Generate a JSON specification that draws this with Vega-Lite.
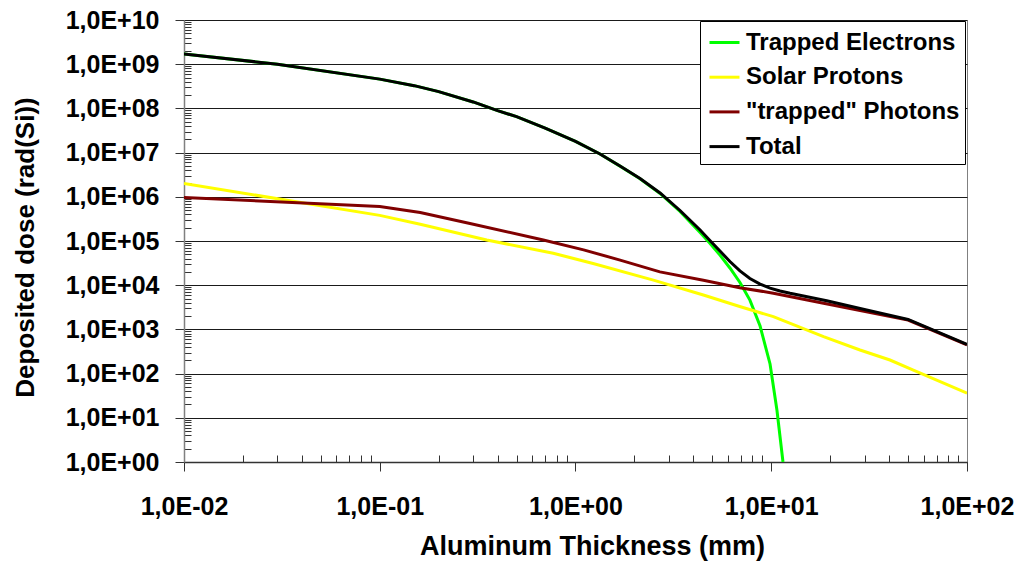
{
  "$schema": "https://vega.github.io/schema/vega-lite/v6.json",
  "width": 783,
  "height": 442,
  "autosize": {"type": "none"},
  "padding": {"left": 184, "top": 20, "right": 55, "bottom": 109},
  "background": "white",
  "config": {
    "font": "Liberation Sans",
    "view": {"stroke": "#808080", "strokeWidth": 1}
  },
  "data": {
    "values": [
      {"series": "Trapped Electrons", "x": 0.01, "y": 1.7e9},
      {"series": "Trapped Electrons", "x": 0.03, "y": 1.0e9},
      {"series": "Trapped Electrons", "x": 0.1, "y": 4.6e8},
      {"series": "Trapped Electrons", "x": 0.15, "y": 3.27e8},
      {"series": "Trapped Electrons", "x": 0.2, "y": 2.4e8},
      {"series": "Trapped Electrons", "x": 0.3, "y": 1.4e8},
      {"series": "Trapped Electrons", "x": 0.4, "y": 8.9e7},
      {"series": "Trapped Electrons", "x": 0.5, "y": 6.5e7},
      {"series": "Trapped Electrons", "x": 0.7, "y": 3.6e7},
      {"series": "Trapped Electrons", "x": 1.0, "y": 1.8e7},
      {"series": "Trapped Electrons", "x": 1.334, "y": 9.3e6},
      {"series": "Trapped Electrons", "x": 1.688, "y": 4.95e6},
      {"series": "Trapped Electrons", "x": 2.137, "y": 2.56e6},
      {"series": "Trapped Electrons", "x": 2.704, "y": 1.19e6},
      {"series": "Trapped Electrons", "x": 3.42, "y": 4.65e5},
      {"series": "Trapped Electrons", "x": 4.33, "y": 1.55e5},
      {"series": "Trapped Electrons", "x": 4.86, "y": 8.9e4},
      {"series": "Trapped Electrons", "x": 5.47, "y": 4.8e4},
      {"series": "Trapped Electrons", "x": 6.15, "y": 2.45e4},
      {"series": "Trapped Electrons", "x": 6.92, "y": 1.15e4},
      {"series": "Trapped Electrons", "x": 7.78, "y": 4.6e3},
      {"series": "Trapped Electrons", "x": 8.77, "y": 1.19e3},
      {"series": "Trapped Electrons", "x": 9.86, "y": 165},
      {"series": "Trapped Electrons", "x": 10.69, "y": 15},
      {"series": "Trapped Electrons", "x": 11.48, "y": 1.0},

      {"series": "Solar Protons", "x": 0.01, "y": 2.0e6},
      {"series": "Solar Protons", "x": 0.1, "y": 3.8e5},
      {"series": "Solar Protons", "x": 0.161, "y": 2.4e5},
      {"series": "Solar Protons", "x": 0.352, "y": 1.05e5},
      {"series": "Solar Protons", "x": 0.77, "y": 5.3e4},
      {"series": "Solar Protons", "x": 1.23, "y": 3.1e4},
      {"series": "Solar Protons", "x": 2.5, "y": 1.3e4},
      {"series": "Solar Protons", "x": 4.5, "y": 6.0e3},
      {"series": "Solar Protons", "x": 6.9, "y": 3.3e3},
      {"series": "Solar Protons", "x": 10.25, "y": 1.94e3},
      {"series": "Solar Protons", "x": 18.5, "y": 684},
      {"series": "Solar Protons", "x": 28.4, "y": 342},
      {"series": "Solar Protons", "x": 40.4, "y": 203},
      {"series": "Solar Protons", "x": 53.2, "y": 120},
      {"series": "Solar Protons", "x": 100, "y": 36},

      {"series": "\"trapped\" Photons", "x": 0.01, "y": 9.7e5},
      {"series": "\"trapped\" Photons", "x": 0.1, "y": 6.0e5},
      {"series": "\"trapped\" Photons", "x": 0.161, "y": 4.4e5},
      {"series": "\"trapped\" Photons", "x": 0.289, "y": 2.5e5},
      {"series": "\"trapped\" Photons", "x": 0.685, "y": 1.05e5},
      {"series": "\"trapped\" Photons", "x": 1.1, "y": 6.3e4},
      {"series": "\"trapped\" Photons", "x": 1.69, "y": 3.7e4},
      {"series": "\"trapped\" Photons", "x": 2.7, "y": 2.0e4},
      {"series": "\"trapped\" Photons", "x": 4.5, "y": 1.3e4},
      {"series": "\"trapped\" Photons", "x": 6.9, "y": 8.8e3},
      {"series": "\"trapped\" Photons", "x": 10.25, "y": 6.6e3},
      {"series": "\"trapped\" Photons", "x": 18.5, "y": 3.9e3},
      {"series": "\"trapped\" Photons", "x": 50, "y": 1.63e3},
      {"series": "\"trapped\" Photons", "x": 100, "y": 444},

      {"series": "Total", "x": 0.01, "y": 1.7e9},
      {"series": "Total", "x": 0.03, "y": 1.0e9},
      {"series": "Total", "x": 0.1, "y": 4.6e8},
      {"series": "Total", "x": 0.15, "y": 3.27e8},
      {"series": "Total", "x": 0.2, "y": 2.4e8},
      {"series": "Total", "x": 0.3, "y": 1.4e8},
      {"series": "Total", "x": 0.4, "y": 8.9e7},
      {"series": "Total", "x": 0.5, "y": 6.5e7},
      {"series": "Total", "x": 0.7, "y": 3.6e7},
      {"series": "Total", "x": 1.0, "y": 1.8e7},
      {"series": "Total", "x": 1.334, "y": 9.3e6},
      {"series": "Total", "x": 1.688, "y": 4.98e6},
      {"series": "Total", "x": 2.137, "y": 2.59e6},
      {"series": "Total", "x": 2.704, "y": 1.22e6},
      {"series": "Total", "x": 3.42, "y": 4.9e5},
      {"series": "Total", "x": 4.33, "y": 1.77e5},
      {"series": "Total", "x": 4.86, "y": 1.03e5},
      {"series": "Total", "x": 5.47, "y": 5.94e4},
      {"series": "Total", "x": 6.15, "y": 3.44e4},
      {"series": "Total", "x": 6.92, "y": 2.1e4},
      {"series": "Total", "x": 7.78, "y": 1.42e4},
      {"series": "Total", "x": 8.77, "y": 1.06e4},
      {"series": "Total", "x": 9.86, "y": 8.6e3},
      {"series": "Total", "x": 11.09, "y": 7.4e3},
      {"series": "Total", "x": 12.48, "y": 6.56e3},
      {"series": "Total", "x": 19.2, "y": 4.46e3},
      {"series": "Total", "x": 30.7, "y": 2.75e3},
      {"series": "Total", "x": 50, "y": 1.68e3},
      {"series": "Total", "x": 100, "y": 460}
    ]
  },
  "resolve": {"axis": {"x": "independent", "y": "independent"}},
  "layer": [
    {
      "mark": {"type": "point", "opacity": 0, "size": 1},
      "encoding": {
        "x": {
          "field": "x", "type": "quantitative",
          "scale": {"type": "log", "domain": [0.01, 100], "nice": false},
          "axis": {
            "orient": "bottom", "title": null, "labels": false, "domain": false, "grid": false,
            "values": [0.02, 0.03, 0.04, 0.05, 0.06, 0.07, 0.08, 0.09, 0.2, 0.3, 0.4, 0.5, 0.6, 0.7, 0.8, 0.9, 2, 3, 4, 5, 6, 7, 8, 9, 20, 30, 40, 50, 60, 70, 80, 90],
            "tickSize": -7, "tickColor": "#333333", "tickWidth": 1
          }
        },
        "y": {
          "field": "y", "type": "quantitative",
          "scale": {"type": "log", "domain": [1, 1e10], "nice": false},
          "axis": {
            "orient": "left", "title": null, "labels": false, "domain": false, "grid": false,
            "values": [2, 3, 4, 5, 6, 7, 8, 9, 20, 30, 40, 50, 60, 70, 80, 90, 200, 300, 400, 500, 600, 700, 800, 900, 2e3, 3e3, 4e3, 5e3, 6e3, 7e3, 8e3, 9e3, 2e4, 3e4, 4e4, 5e4, 6e4, 7e4, 8e4, 9e4, 2e5, 3e5, 4e5, 5e5, 6e5, 7e5, 8e5, 9e5, 2e6, 3e6, 4e6, 5e6, 6e6, 7e6, 8e6, 9e6, 2e7, 3e7, 4e7, 5e7, 6e7, 7e7, 8e7, 9e7, 2e8, 3e8, 4e8, 5e8, 6e8, 7e8, 8e8, 9e8, 2e9, 3e9, 4e9, 5e9, 6e9, 7e9, 8e9, 9e9],
            "tickSize": -7, "tickColor": "#333333", "tickWidth": 1
          }
        }
      }
    },
    {
      "mark": {"type": "line", "strokeWidth": 3, "clip": true},
      "encoding": {
        "x": {
          "field": "x", "type": "quantitative",
          "scale": {"type": "log", "domain": [0.01, 100], "nice": false},
          "axis": {
            "orient": "bottom",
            "values": [0.01, 0.1, 1, 10, 100],
            "grid": false,
            "domainColor": "#333333", "domainWidth": 1.5,
            "tickSize": 9, "tickColor": "#333333", "tickWidth": 1,
            "labelFont": "Liberation Sans", "labelFontSize": 25, "labelFontWeight": "bold", "labelColor": "black",
            "labelPadding": 23, "labelFlush": false, "labelOverlap": false, "labelBound": false,
            "labelExpr": "'1,0E' + (datum.value < 1 ? '-' : '+') + (abs(round(log(datum.value) / LN10)) < 10 ? '0' : '') + abs(round(log(datum.value) / LN10))",
            "title": "Aluminum Thickness (mm)",
            "titleFont": "Liberation Sans", "titleFontSize": 27, "titleFontWeight": "bold", "titleColor": "black",
            "titleBaseline": "alphabetic", "titleY": 92, "titleX": 408
          }
        },
        "y": {
          "field": "y", "type": "quantitative",
          "scale": {"type": "log", "domain": [1, 1e10], "nice": false},
          "axis": {
            "orient": "left",
            "values": [1, 10, 100, 1e3, 1e4, 1e5, 1e6, 1e7, 1e8, 1e9, 1e10],
            "grid": true, "gridColor": "#1a1a1a", "gridWidth": 1,
            "domainColor": "#808080", "domainWidth": 1.5,
            "tickSize": 9, "tickColor": "#333333", "tickWidth": 1,
            "labelFont": "Liberation Sans", "labelFontSize": 25, "labelFontWeight": "bold", "labelColor": "black",
            "labelPadding": 16, "labelOverlap": false, "labelBound": false,
            "labelExpr": "'1,0E' + (datum.value < 1 ? '-' : '+') + (abs(round(log(datum.value) / LN10)) < 10 ? '0' : '') + abs(round(log(datum.value) / LN10))",
            "title": "Deposited dose (rad(Si))",
            "titleFont": "Liberation Sans", "titleFontSize": 26, "titleFontWeight": "bold", "titleColor": "black",
            "titleAngle": -90, "titleBaseline": "alphabetic", "titleX": -151, "titleY": 227
          }
        },
        "color": {
          "field": "series", "type": "nominal",
          "scale": {
            "domain": ["Trapped Electrons", "Solar Protons", "\"trapped\" Photons", "Total"],
            "range": ["#00ff00", "#ffff00", "#800000", "#000000"]
          },
          "legend": {
            "orient": "none", "legendX": 516, "legendY": 1,
            "title": null,
            "symbolType": "stroke", "symbolSize": 900, "symbolStrokeWidth": 3, "symbolOffset": 3,
            "labelFont": "Liberation Sans", "labelFontSize": 24, "labelFontWeight": "bold", "labelColor": "black",
            "labelLimit": 400, "labelOffset": 5, "rowPadding": 5.7, "padding": 5,
            "strokeColor": "#000000", "fillColor": "#ffffff"
          }
        }
      }
    }
  ]
}
